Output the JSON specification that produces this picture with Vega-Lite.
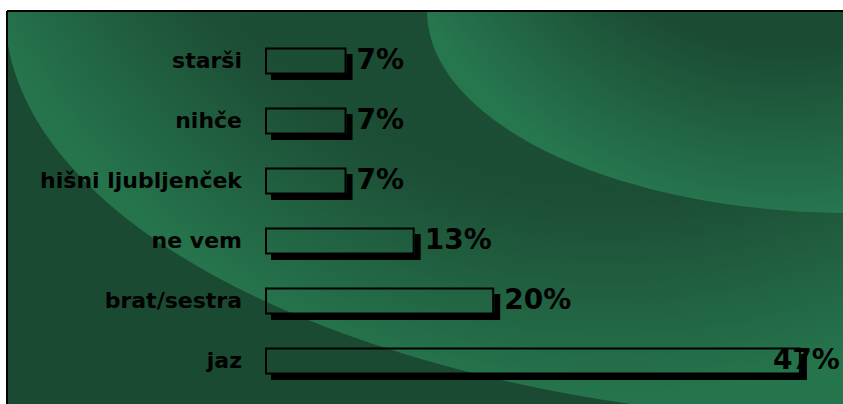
{
  "$schema": "https://vega.github.io/schema/vega-lite/v6.json",
  "width": 836,
  "height": 393,
  "autosize": "none",
  "padding": {"left": 7, "top": 11, "right": 0, "bottom": 0},
  "background": "white",
  "config": {"view": {"fill": "#1b4a33", "stroke": null}},
  "data": {"values": [
    {"k": "starši", "v": 0.07},
    {"k": "nihče", "v": 0.07},
    {"k": "hišni ljubljenček", "v": 0.07},
    {"k": "ne vem", "v": 0.13},
    {"k": "brat/sestra", "v": 0.20},
    {"k": "jaz", "v": 0.47}
  ]},
  "layer": [
    {
      "transform": [{"aggregate": [{"op": "count", "as": "n"}]}],
      "layer": [
        {
          "mark": {
            "type": "point",
            "shape": "M1,0C1,0.2542,0.5523,0.4603,0,0.4603C-0.5523,0.4603,-1,0.2542,-1,0C-1,-0.2542,-0.5523,-0.4603,0,-0.4603C0.5523,-0.4603,1,-0.2542,1,0Z",
            "size": 3204100,
            "filled": true,
            "opacity": 1,
            "strokeWidth": 0,
            "clip": true,
            "fill": {
              "gradient": "radial",
              "x1": 0.3385, "y1": 0.3218, "r1": 0,
              "x2": 0.3385, "y2": 0.3218, "r2": 0.3922,
              "stops": [
                {"offset": 0, "color": "#1b4a33"},
                {"offset": 0.72, "color": "#1c4d35"},
                {"offset": 1, "color": "#25744c"}
              ]
            }
          },
          "encoding": {
            "x": {"datum": 1.0682, "type": "quantitative", "scale": {"domain": [0, 1]}, "axis": null},
            "y": {"datum": 0, "type": "quantitative", "scale": {"domain": [0, 1], "reverse": true}, "axis": null}
          }
        },
        {
          "mark": {
            "type": "point",
            "shape": "M1,0C1,0.2625,0.5523,0.4753,0,0.4753C-0.5523,0.4753,-1,0.2625,-1,0C-1,-0.2625,-0.5523,-0.4753,0,-0.4753C0.5523,-0.4753,1,-0.2625,1,0Z",
            "size": 722500,
            "filled": true,
            "opacity": 1,
            "strokeWidth": 0,
            "clip": true,
            "fill": {
              "gradient": "radial",
              "x1": 0.4212, "y1": 0.2459, "r1": 0,
              "x2": 0.4212, "y2": 0.2459, "r2": 0.4941,
              "stops": [
                {"offset": 0, "color": "#1b4a33"},
                {"offset": 0.6, "color": "#1b4b33"},
                {"offset": 1, "color": "#26764e"}
              ]
            }
          },
          "encoding": {
            "x": {"datum": 1.0108, "type": "quantitative", "scale": {"domain": [0, 1]}, "axis": null},
            "y": {"datum": 0, "type": "quantitative", "scale": {"domain": [0, 1], "reverse": true}, "axis": null}
          }
        },
        {
          "mark": {"type": "rule", "color": "black", "strokeWidth": 2},
          "encoding": {
            "x": {"datum": 0, "type": "quantitative", "scale": {"domain": [0, 1]}, "axis": null},
            "y": {"datum": 0, "type": "quantitative", "scale": {"domain": [0, 1], "reverse": true}, "axis": null},
            "y2": {"datum": 1}
          }
        },
        {
          "mark": {"type": "rule", "color": "black", "strokeWidth": 2},
          "encoding": {
            "x": {"datum": 0, "type": "quantitative", "scale": {"domain": [0, 1]}, "axis": null},
            "x2": {"datum": 1},
            "y": {"datum": 0, "type": "quantitative", "scale": {"domain": [0, 1], "reverse": true}, "axis": null}
          }
        }
      ]
    },
    {
      "encoding": {
        "y": {"field": "k", "type": "nominal", "sort": null, "scale": {"range": [20, 380], "paddingInner": 0, "paddingOuter": 0}, "axis": null},
        "x": {"field": "v", "type": "quantitative", "scale": {"domain": [0, 0.5], "range": [259, 827]}, "axis": null}
      },
      "layer": [
        {"mark": {"type": "bar", "color": "black", "size": 6, "xOffset": 5, "yOffset": 16}},
        {"mark": {"type": "tick", "orient": "vertical", "color": "black", "thickness": 6, "size": 26, "xOffset": 4, "yOffset": 6, "opacity": 1}},
        {"mark": {"type": "bar", "size": 25, "fill": "transparent", "stroke": "black", "strokeWidth": 2}},
        {
          "mark": {"type": "text", "align": "right", "baseline": "middle", "dx": -24, "font": "DejaVu Sans", "fontWeight": "bold", "fontSize": 22, "color": "black"},
          "encoding": {"x": {"datum": 0, "type": "quantitative"}, "text": {"field": "k"}}
        },
        {
          "transform": [{"filter": "datum.v < 0.4"}],
          "mark": {"type": "text", "align": "left", "baseline": "middle", "dx": 11, "font": "DejaVu Sans", "fontWeight": "bold", "fontSize": 28, "color": "black"},
          "encoding": {"text": {"field": "v", "format": ".0%"}}
        },
        {
          "transform": [{"filter": "datum.v >= 0.4"}],
          "mark": {"type": "text", "align": "right", "baseline": "middle", "dx": 40, "font": "DejaVu Sans", "fontWeight": "bold", "fontSize": 28, "color": "black"},
          "encoding": {"text": {"field": "v", "format": ".0%"}}
        }
      ]
    }
  ],
  "resolve": {"scale": {"x": "independent", "y": "independent"}}
}
